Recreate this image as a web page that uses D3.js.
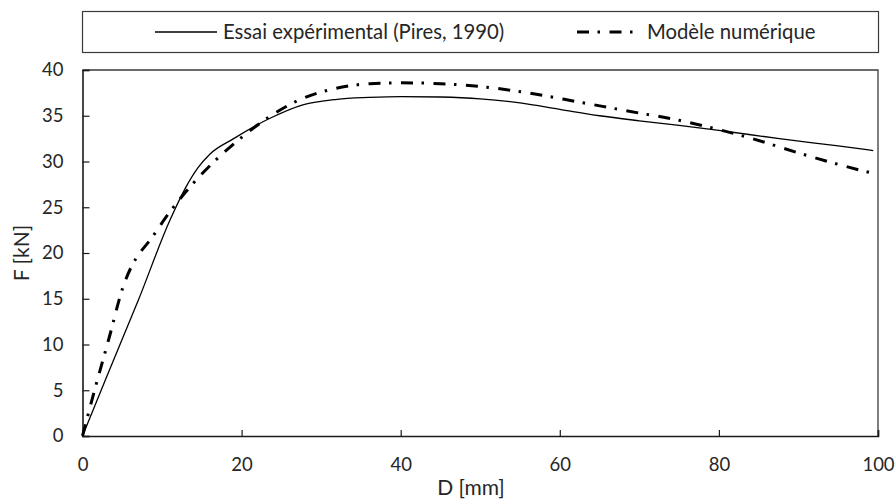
<!DOCTYPE html>
<html>
<head>
<meta charset="utf-8">
<script src="https://cdn.jsdelivr.net/npm/d3@7"></script>
<style>
  html, body { margin: 0; padding: 0; background: #fff; }
  svg { display: block; }
  text { font-family: Lato, "Open Sans", sans-serif; fill: #262626; }
</style>
</head>
<body>
<svg id="chart" width="896" height="501"></svg>
<script>
// Force–displacement curves: experiment vs numerical model
const expD = [0, 3, 7, 11, 13, 14.5, 16, 19, 23.5, 27.7, 32, 36, 40, 45, 50, 55, 60, 65, 70, 75, 80, 87.6, 95, 99.4];
const expF = [0, 6.4, 14.8, 23.6, 27.2, 29.3, 30.8, 32.5, 34.7, 36.2, 36.8, 37.0, 37.1, 37.05, 36.85, 36.4, 35.7, 35.0, 34.45, 33.95, 33.4, 32.5, 31.7, 31.2];

const numD = [0, 1.3, 3.4, 5.1, 6.2, 7.2, 8.4, 10.9, 13.9, 16.8, 20.1, 23.5, 27.7, 31.9, 36.1, 40, 45, 49.9, 56, 62.4, 68, 75, 83.4, 91.7, 98.5, 99.5];
const numF = [0, 4.3, 10.9, 16.3, 18.6, 20.0, 21.3, 24.4, 27.6, 30.2, 32.7, 34.9, 36.9, 38.0, 38.5, 38.6, 38.5, 38.2, 37.5, 36.5, 35.6, 34.5, 32.7, 30.5, 28.9, 28.7];

const xTicks = [0, 20, 40, 60, 80, 100];
const yTicks = [0, 5, 10, 15, 20, 25, 30, 35, 40];

const seriesNames = ["Essai expérimental (Pires, 1990)", "Modèle numérique"];
const xTitle = "D [mm]";
const yTitle = "F [kN]";

const svg = d3.select("#chart");
const plot = { left: 82.5, right: 878, top: 70, bottom: 436 };

const x = d3.scaleLinear().domain([0, 100]).range([plot.left, plot.right]);
const y = d3.scaleLinear().domain([0, 40]).range([plot.bottom, plot.top]);

const dashDot = "12,8.5,2.5,9.5";

// Legend frame and entries
const legend = svg.append("g");
legend.append("rect")
  .attr("x", 82.5).attr("y", 11.5).attr("width", 796).attr("height", 41)
  .attr("fill", "#fff").attr("stroke", "#3a3a3a").attr("stroke-width", 1.2);
legend.append("line")
  .attr("x1", 155).attr("x2", 217).attr("y1", 32).attr("y2", 32)
  .attr("stroke", "#000").attr("stroke-width", 1.3);
legend.append("text").attr("x", 223).attr("y", 32).attr("dy", "0.35em")
  .attr("font-size", 20.3).text(seriesNames[0]);
legend.append("line")
  .attr("x1", 577).attr("x2", 640).attr("y1", 32).attr("y2", 32)
  .attr("stroke", "#000").attr("stroke-width", 3)
  .attr("stroke-dasharray", dashDot);
legend.append("text").attr("x", 647).attr("y", 32).attr("dy", "0.35em")
  .attr("font-size", 20.3).text(seriesNames[1]);

// Plot frame (top and right edges)
svg.append("path")
  .attr("d", `M${plot.left},${plot.top}H${plot.right}V${plot.bottom}`)
  .attr("fill", "none").attr("stroke", "#3a3a3a").attr("stroke-width", 1.3);

// Axes with inward ticks
const xAxis = svg.append("g").attr("transform", `translate(0,${plot.bottom})`)
  .call(d3.axisBottom(x).tickValues(xTicks).tickSize(-6).tickPadding(28).tickFormat(d3.format("d")));
const yAxis = svg.append("g").attr("transform", `translate(${plot.left},0)`)
  .call(d3.axisLeft(y).tickValues(yTicks).tickSize(-7).tickPadding(26).tickFormat(d3.format("d")));

[xAxis, yAxis].forEach(a => {
  a.select(".domain").attr("stroke", "#1a1a1a").attr("stroke-width", 1.6);
  a.selectAll(".tick line").attr("stroke", "#1a1a1a").attr("stroke-width", 1.2);
  a.selectAll(".tick text").attr("font-size", 18.5)
    .attr("font-family", "Lato, 'Open Sans', sans-serif").attr("fill", "#262626");
});
xAxis.selectAll(".tick text").attr("dy", "0.35em").attr("y", 29);
yAxis.selectAll(".tick text").attr("x", -19);

// Axis titles
svg.append("text").attr("x", 471).attr("y", 488).attr("dy", "0.35em")
  .attr("text-anchor", "middle").attr("font-size", 21).text(xTitle);
svg.append("text")
  .attr("transform", `translate(22,${(plot.top + plot.bottom) / 2}) rotate(-90)`)
  .attr("dy", "0.35em").attr("text-anchor", "middle").attr("font-size", 21).text(yTitle);

// Curves
const line = d3.line().x(d => x(d[0])).y(d => y(d[1])).curve(d3.curveMonotoneX);
const expPts = d3.zip(expD, expF);
const numPts = d3.zip(numD, numF);

svg.append("path").datum(expPts).attr("d", line)
  .attr("fill", "none").attr("stroke", "#000").attr("stroke-width", 1.3);
svg.append("path").datum(numPts).attr("d", line)
  .attr("fill", "none").attr("stroke", "#000").attr("stroke-width", 3)
  .attr("stroke-dasharray", dashDot);
</script>
</body>
</html>
